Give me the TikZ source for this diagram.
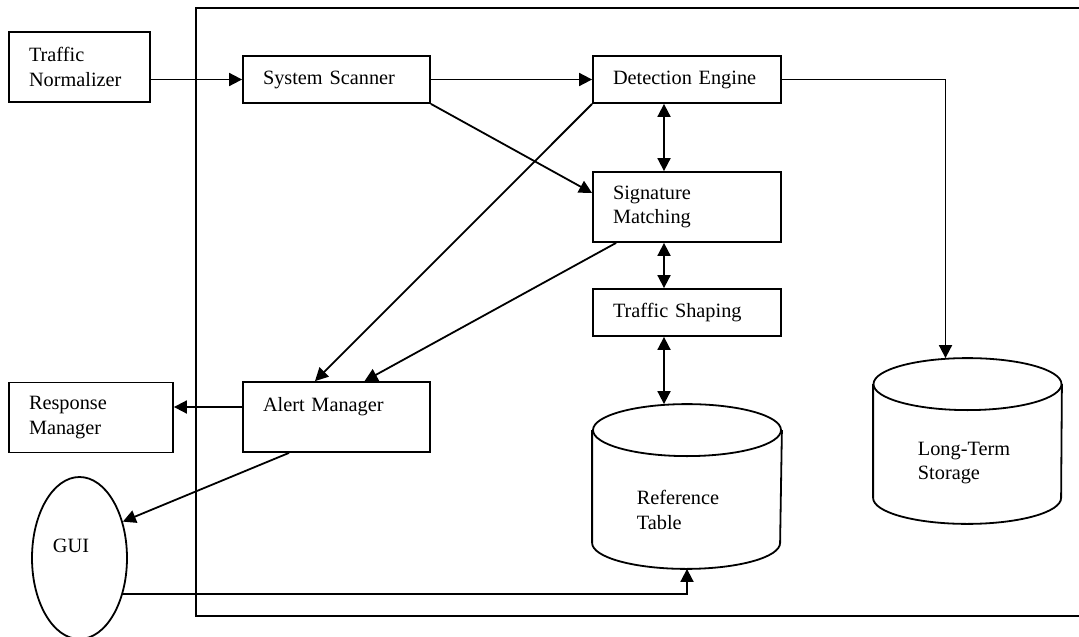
\documentclass[tikz,border=0pt]{standalone}
\usepackage{fontspec}
\setmainfont{Liberation Serif}
\usetikzlibrary{arrows.meta,shapes.geometric}
\tikzset{
  box/.style={draw,rectangle,inner xsep=20pt,inner ysep=0pt,align=left,minimum height=47pt},
  tall/.style={minimum height=70pt},
  store/.style={rectangle,inner sep=0pt,minimum width=188pt,minimum height=163pt},
  link/.style={->},
  both/.style={<->}
}
% outline of a storage drum around node #1 (cap depth 26pt)
\newcommand\drum[1]{%
  \draw([yshift=-26pt]#1.north west)--([yshift=26pt]#1.south west)
    arc[start angle=180,end angle=360,x radius=94pt,y radius=26pt]
    --([yshift=-26pt]#1.north east);
  \draw([yshift=-26pt]#1.north)ellipse[x radius=94pt,y radius=26pt];}
\begin{document}
\begin{tikzpicture}[x=1pt,y=-1pt,line width=1.8pt,>={Triangle[length=13pt,width=13pt]},
  font=\fontsize{20.3}{24.5}\selectfont]
\useasboundingbox(0,0)rectangle(1079,637);
% system frame, open to the right
\draw(196,8)rectangle(1090,616);
\node[box,tall,text width=101pt](tn)at(79.5,67){Traffic\\Normalizer};
\node[box,text width=147pt](ss)at(336.5,79.5){System Scanner};
\node[box,text width=148pt](de)at(687,79.5){Detection Engine};
\node[box,tall,text width=148pt](sm)at(687,207){Signature\\Matching};
\node[box,text width=148pt](ts)at(687,312.5){Traffic Shaping};
\node[box,tall,text width=147pt](am)at(336.5,417){Alert Manager\\\mbox{}};
\node[box,tall,text width=124pt](rm)at(91,417.5){Response\\Manager};
\node[draw,ellipse,inner sep=0pt,minimum width=95pt,minimum height=162pt](gui)at(79.5,558){};
\node(guilabel)at(71,546){GUI};
\node[store](rt)at(687,486.5){};
\drum{rt}
\node[align=left](rtlabel)at(678,510){Reference\\Table};
\node[store,minimum width=187pt,minimum height=164pt](lts)at(967.5,441){};
\drum{lts}
\node[align=left](ltslabel)at(964,463){Long-Term\\Storage};
% data flow
\draw[link](tn.east|-ss.west)--(ss.west);
\draw[link](ss.east)--(de.west);
\draw[link](de.east)-|([xshift=-22pt]lts.north);
\draw[both]([xshift=-23pt]de.south)--([xshift=-23pt]sm.north);
\draw[both]([xshift=-23pt]sm.south)--([xshift=-23pt]ts.north);
\draw[both]([xshift=-23pt]ts.south)--([xshift=-23pt]rt.north);
\draw[link](ss.south east)--([yshift=14pt]sm.west);
\draw[link](de.south west)--([xshift=-21.5pt]am.north);
\draw[link]([xshift=24pt]sm.south west)--([xshift=28pt]am.north);
\draw[link]([yshift=10pt]am.west)--([yshift=10pt]am.west-|rm.east);
\draw[link]([xshift=-47.5pt]am.south)--(gui.40);
\draw[link](gui.-40)-|(rt.south);
\end{tikzpicture}
\end{document}
